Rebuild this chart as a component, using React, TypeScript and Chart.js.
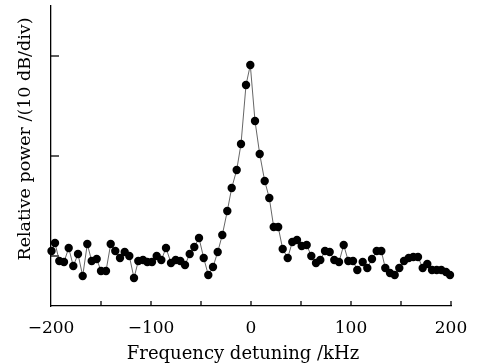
import React, { useEffect, useRef } from "react";
import { Chart, registerables } from "chart.js";

Chart.register(...registerables);

// Frequency detuning (kHz)
const detuning: number[] = [
  -199.5, -196, -191.7, -187, -182.3, -177.7, -173, -168.3, -163.7, -159.3,
  -154.3, -150, -145, -140.3, -135.7, -131, -126.3, -121.7, -117, -112.7,
  -108, -103.7, -99, -94.3, -89.7, -85, -80, -75.3, -70.7, -66,
  -61.3, -56.7, -52, -47.3, -42.7, -38, -33.3, -28.7, -23.7, -19.3,
  -14.3, -10, -5, -0.7, 4, 8.7, 13.7, 18.3, 22.7, 27.2,
  31.7, 36.7, 41.3, 46, 50.7, 55.7, 60.3, 65, 69.3, 74,
  78.7, 83.3, 88, 92.7, 97.3, 102, 106.3, 111.7, 116.3, 121,
  125.7, 130.3, 134.3, 139, 143.7, 148.3, 153, 157.7, 162.3, 167,
  171.7, 176.3, 181, 185.7, 190.3, 195, 199,
];

// Relative power (dB)
const power: number[] = [
  -19.5, -18.7, -20.5, -20.6, -19.2, -21.0, -19.8, -22.0, -18.8, -20.5,
  -20.3, -21.5, -21.5, -18.8, -19.5, -20.2, -19.6, -20.0, -22.2, -20.5,
  -20.4, -20.6, -20.6, -20.0, -20.4, -19.2, -20.7, -20.4, -20.5, -20.9,
  -19.8, -19.1, -18.2, -20.2, -21.9, -21.1, -19.6, -17.9, -15.5, -13.2,
  -11.4, -8.8, -2.9, -0.9, -6.5, -9.8, -12.5, -14.2, -17.1, -17.1,
  -19.3, -20.2, -18.6, -18.4, -19.0, -18.9, -20.0, -20.7, -20.4, -19.5,
  -19.6, -20.4, -20.6, -18.9, -20.5, -20.5, -21.4, -20.6, -21.2, -20.3,
  -19.5, -19.5, -21.2, -21.7, -21.9, -21.2, -20.5, -20.2, -20.1, -20.1,
  -21.2, -20.8, -21.4, -21.4, -21.4, -21.6, -21.9,
];

const xTickLabels: number[] = [-200, -100, 0, 100, 200];
const xMinorTicks: number[] = [-150, -100, -50, 0, 50, 100, 150, 200];
const yTicks: number[] = [-20, -10, 0];

const xTitle = "Frequency detuning /kHz";
const yTitle = "Relative power /(10 dB/div)";

const FONT = "'DejaVu Serif', serif";

const tickPlugin = {
  id: "inwardTicks",
  beforeDatasetsDraw(chart: any) {
    const ctx = chart.ctx;
    const xs = chart.scales.x;
    const ys = chart.scales.y;
    const area = chart.chartArea;
    ctx.save();
    ctx.strokeStyle = "#000";
    ctx.lineWidth = 1.3;
    for (const v of xMinorTicks) {
      const px = xs.getPixelForValue(v);
      ctx.beginPath();
      ctx.moveTo(px, area.bottom);
      ctx.lineTo(px, area.bottom - 5);
      ctx.stroke();
    }
    for (const v of yTicks) {
      const py = ys.getPixelForValue(v);
      ctx.beginPath();
      ctx.moveTo(area.left, py);
      ctx.lineTo(area.left + 8, py);
      ctx.stroke();
    }
    ctx.restore();
  },
  afterDraw(chart: any) {
    const ctx = chart.ctx;
    ctx.save();
    ctx.fillStyle = "#000";
    ctx.textAlign = "center";
    ctx.textBaseline = "alphabetic";
    ctx.font = `18px ${FONT}`;
    ctx.fillText(xTitle, 243, 359);
    ctx.font = `17.5px ${FONT}`;
    ctx.translate(30, 139);
    ctx.rotate(-Math.PI / 2);
    ctx.fillText(yTitle, 0, 0);
    ctx.restore();
  },
};

export default function App() {
  const ref = useRef<HTMLCanvasElement | null>(null);
  useEffect(() => {
    if (!ref.current) return;
    const chart = new Chart(ref.current, {
      type: "scatter",
      data: {
        datasets: [
          {
            data: detuning.map((x, i) => ({ x, y: power[i] })),
            showLine: true,
            borderColor: "#555",
            borderWidth: 0.9,
            pointRadius: 4.2,
            pointBackgroundColor: "#000",
            pointBorderWidth: 0,
            clip: false as any,
          },
        ],
      },
      options: {
        animation: false,
        responsive: false,
        layout: { padding: { top: 6, right: 29, left: 0, bottom: 0 } },
        plugins: { legend: { display: false }, tooltip: { enabled: false } },
        scales: {
          x: {
            type: "linear",
            min: -200,
            max: 200,
            afterFit: (s: any) => {
              s.height = 58;
            },
            afterBuildTicks: (s: any) => {
              s.ticks = xTickLabels.map((v) => ({ value: v }));
            },
            ticks: {
              color: "#000",
              padding: 4,
              font: { family: FONT, size: 17 },
              callback: (v: any) => String(v).replace("-", "\u2212"),
            },
            grid: { display: false },
            border: { display: true, color: "#000", width: 1.3 },
          },
          y: {
            min: -25,
            max: 5,
            afterFit: (s: any) => {
              s.width = 51;
            },
            ticks: { display: false },
            grid: { display: false },
            border: { display: true, color: "#000", width: 1.3 },
          },
        },
      },
      plugins: [tickPlugin],
    });
    return () => chart.destroy();
  }, []);
  return (
    <div style={{ position: "absolute", left: 0, top: 0, width: 480, height: 364, background: "#fff" }}>
      <canvas ref={ref} width={480} height={364} style={{ display: "block" }} />
    </div>
  );
}
